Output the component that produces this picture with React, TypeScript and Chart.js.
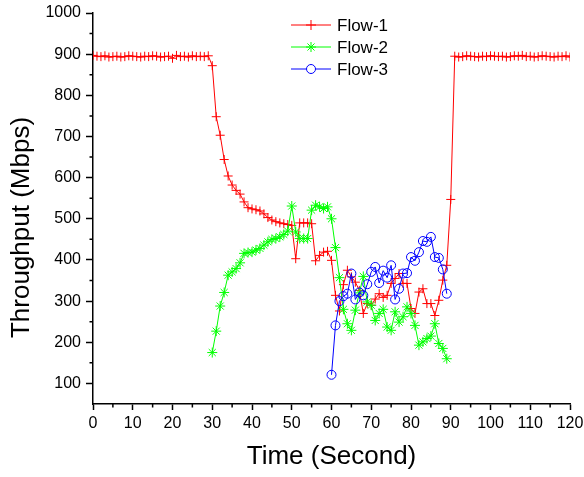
import React, { useEffect, useRef } from 'react';
import { Chart, registerables } from 'chart.js';

Chart.register(...registerables);

const FONT = '"Liberation Sans", Arial, Helvetica, sans-serif';

const seriesNames = ['Flow-1', 'Flow-2', 'Flow-3'];
const seriesColors = ['#ff0000', '#00ff00', '#0000ff'];

// sampling start time (s) of each flow, one sample per second
const flow1Start = 0;
const flow2Start = 30;
const flow3Start = 60;

const flow1Values = [
  897, 895, 894, 896, 893, 894, 895, 893, 894, 896,
  895, 894, 893, 895, 894, 896, 895, 893, 894, 895,
  890, 897, 894, 895, 893, 896, 894, 895, 894, 896,
  872, 748, 703, 644, 604, 582, 569, 560, 541, 527,
  524, 522, 519, 512, 503, 497, 493, 490, 488, 486,
  484, 403, 490, 490, 490, 488, 398, 411, 419, 421,
  399, 314, 276, 340, 375, 359, 346, 326, 270, 294,
  290, 305, 318, 309, 314, 343, 355, 367, 343, 343,
  282, 270, 322, 330, 294, 294, 265, 302, 351, 387,
  547, 895, 893, 894, 896, 895, 894, 893, 895, 894,
  896, 895, 894, 895, 893, 894, 896, 895, 897, 894,
  895, 893, 894, 896, 895, 894, 893, 895, 894, 896,
  893,
];

const flow2Values = [
  175, 227, 288, 321, 363, 371, 379, 393, 416, 418,
  419, 424, 428, 436, 444, 450, 452, 456, 462, 470,
  531, 468, 452, 452, 452, 521, 533, 529, 525, 529,
  500, 430, 357, 280, 245, 229, 278, 320, 360, 298,
  290, 253, 270, 280, 237, 229, 274, 249, 262, 286,
  270, 241, 193, 201, 209, 215, 245, 197, 185, 160,
];

const flow3Values = [
  121, 241, 300, 312, 318, 367, 304, 321, 314, 341,
  371, 383, 344, 374, 357, 387, 304, 330, 367, 368,
  407, 398, 419, 446, 444, 456, 407, 405, 377, 318,
];

const xTicks = [0, 10, 20, 30, 40, 50, 60, 70, 80, 90, 100, 110, 120];
const xMinorTicks = [5, 15, 25, 35, 45, 55, 65, 75, 85, 95, 105, 115];
const yTicks = [100, 200, 300, 400, 500, 600, 700, 800, 900, 1000];
const yMinorTicks = [150, 250, 350, 450, 550, 650, 750, 850, 950];

const xTitle = 'Time (Second)';
const yTitle = 'Throughput (Mbps)';

function toPoints(start: number, values: number[]) {
  return values.map((v, i) => ({ x: start + i, y: v }));
}

function drawMarker(ctx: CanvasRenderingContext2D, kind: string, x: number, y: number, r: number, color: string) {
  ctx.save();
  ctx.strokeStyle = color;
  ctx.lineWidth = 1;
  ctx.beginPath();
  if (kind === 'cross') {
    ctx.moveTo(x - r, y); ctx.lineTo(x + r, y);
    ctx.moveTo(x, y - r); ctx.lineTo(x, y + r);
    ctx.stroke();
  } else if (kind === 'star') {
    ctx.moveTo(x - r, y); ctx.lineTo(x + r, y);
    ctx.moveTo(x, y - r); ctx.lineTo(x, y + r);
    const d = r * 0.7071;
    ctx.moveTo(x - d, y - d); ctx.lineTo(x + d, y + d);
    ctx.moveTo(x - d, y + d); ctx.lineTo(x + d, y - d);
    ctx.stroke();
  } else {
    ctx.arc(x, y, r, 0, Math.PI * 2);
    ctx.fillStyle = '#ffffff';
    ctx.fill();
    ctx.stroke();
  }
  ctx.restore();
}

const markerKinds = ['cross', 'star', 'circle'];

const decorPlugin = {
  id: 'decor',
  afterDraw(chart: any) {
    const { ctx, chartArea, scales } = chart;
    const { left, right, top, bottom } = chartArea;
    ctx.save();
    // minor ticks
    ctx.strokeStyle = '#000';
    ctx.lineWidth = 1.5;
    ctx.beginPath();
    xMinorTicks.forEach((v) => {
      const px = scales.x.getPixelForValue(v);
      ctx.moveTo(px, bottom);
      ctx.lineTo(px, bottom + 3.5);
    });
    yMinorTicks.forEach((v) => {
      const py = scales.y.getPixelForValue(v);
      ctx.moveTo(left - 3.5, py);
      ctx.lineTo(left, py);
    });
    ctx.stroke();

    // axis titles
    ctx.fillStyle = '#000';
    ctx.font = `26px ${FONT}`;
    ctx.textAlign = 'center';
    ctx.textBaseline = 'middle';
    ctx.fillText(xTitle, (left + right) / 2, bottom + 53);
    ctx.save();
    ctx.translate(22, (top + bottom) / 2 + 19);
    ctx.rotate(-Math.PI / 2);
    ctx.fillText(yTitle, 0, 0);
    ctx.restore();

    // legend
    ctx.font = `17px ${FONT}`;
    ctx.textAlign = 'left';
    seriesNames.forEach((name, i) => {
      const y = top + 12 + i * 22;
      const x0 = left + 198;
      const x1 = left + 238;
      ctx.strokeStyle = seriesColors[i];
      ctx.lineWidth = 1;
      ctx.beginPath();
      ctx.moveTo(x0, y);
      ctx.lineTo(x1, y);
      ctx.stroke();
      drawMarker(ctx, markerKinds[i], (x0 + x1) / 2, y, i === 2 ? 4.5 : 5, seriesColors[i]);
      ctx.fillStyle = '#000';
      ctx.fillText(name, left + 244, y + 1);
    });
    ctx.restore();
  },
};

export default function App() {
  const canvasRef = useRef<HTMLCanvasElement | null>(null);

  useEffect(() => {
    if (!canvasRef.current) return;
    const chart = new Chart(canvasRef.current, {
      type: 'line',
      data: {
        datasets: [
          {
            label: seriesNames[0],
            data: toPoints(flow1Start, flow1Values),
            borderColor: seriesColors[0],
            backgroundColor: seriesColors[0],
            borderWidth: 1,
            pointStyle: 'cross',
            pointRadius: 4.5,
            pointBorderWidth: 1,
            pointBorderColor: seriesColors[0],
            tension: 0,
            order: 2,
          },
          {
            label: seriesNames[1],
            data: toPoints(flow2Start, flow2Values),
            borderColor: seriesColors[1],
            backgroundColor: seriesColors[1],
            borderWidth: 1,
            pointStyle: 'star',
            pointRadius: 5,
            pointBorderWidth: 1,
            pointBorderColor: seriesColors[1],
            tension: 0,
            order: 1,
          },
          {
            label: seriesNames[2],
            data: toPoints(flow3Start, flow3Values),
            borderColor: seriesColors[2],
            backgroundColor: 'rgba(255,255,255,0)',
            borderWidth: 1,
            pointStyle: 'circle',
            pointRadius: 4.5,
            pointBorderWidth: 1,
            pointBorderColor: seriesColors[2],
            pointBackgroundColor: 'rgba(255,255,255,0)',
            tension: 0,
            order: 0,
          },
        ],
      },
      options: {
        animation: false,
        responsive: false,
        maintainAspectRatio: false,
        layout: { padding: { left: 0, right: 14, top: 13, bottom: 0 } },
        plugins: {
          legend: { display: false },
          tooltip: { enabled: false },
          title: { display: false },
        },
        scales: {
          x: {
            type: 'linear',
            min: 0,
            max: 120,
            afterBuildTicks: (s: any) => {
              s.ticks = xTicks.map((v) => ({ value: v }));
            },
            afterFit: (s: any) => {
              s.height = 73;
              s.paddingLeft = 0;
              s.paddingRight = 0;
            },
            grid: {
              display: true,
              drawOnChartArea: false,
              drawTicks: true,
              tickLength: 6,
              tickWidth: 1.5,
              tickColor: '#000',
            },
            border: { display: true, color: '#000', width: 1.5 },
            ticks: {
              color: '#000',
              font: { family: FONT, size: 16 },
              padding: 4,
              maxRotation: 0,
              autoSkip: false,
              callback: (v: any) => String(v),
            },
          },
          y: {
            type: 'linear',
            min: 50,
            max: 1000,
            afterBuildTicks: (s: any) => {
              s.ticks = yTicks.map((v) => ({ value: v }));
            },
            afterFit: (s: any) => {
              s.width = 93;
              s.paddingTop = 0;
              s.paddingBottom = 0;
            },
            grid: {
              display: true,
              drawOnChartArea: false,
              drawTicks: true,
              tickLength: 7,
              tickWidth: 1.5,
              tickColor: '#000',
            },
            border: { display: true, color: '#000', width: 1.5 },
            ticks: {
              color: '#000',
              font: { family: FONT, size: 16 },
              padding: 5,
              autoSkip: false,
              callback: (v: any) => String(v),
            },
          },
        },
      },
      plugins: [decorPlugin],
    } as any);
    return () => chart.destroy();
  }, []);

  return (
    <div style={{ position: 'fixed', left: 0, top: 0, width: 584, height: 477, background: '#fff' }}>
      <canvas ref={canvasRef} width={584} height={477} style={{ width: 584, height: 477, display: 'block' }} />
    </div>
  );
}
